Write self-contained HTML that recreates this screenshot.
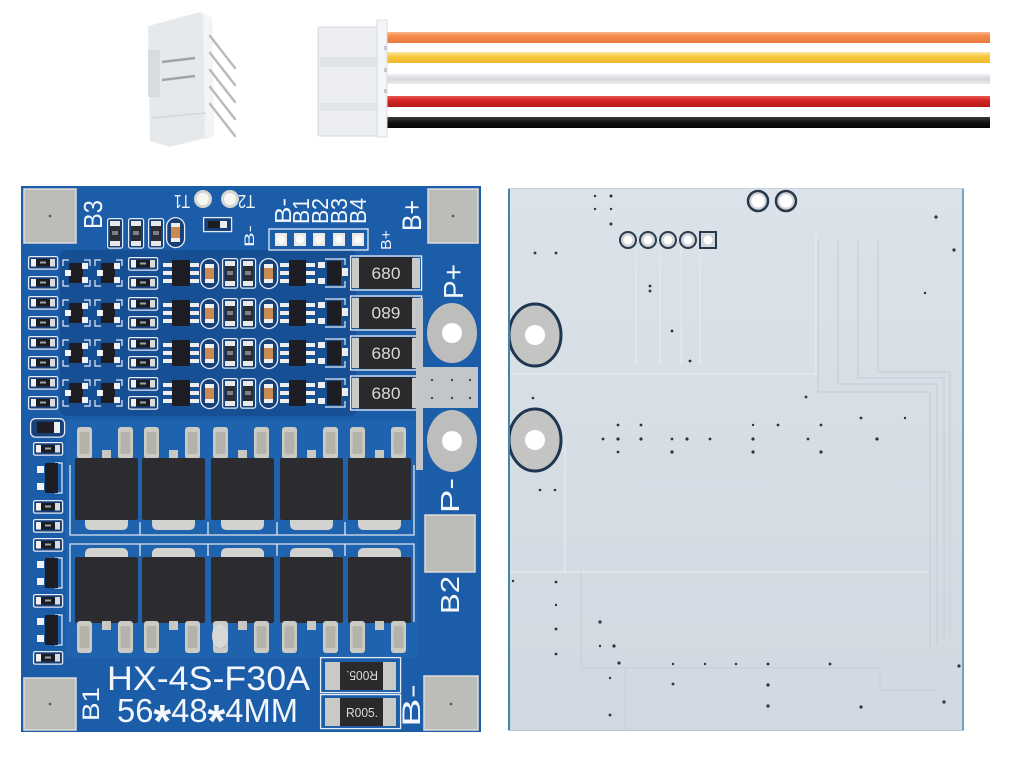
<!DOCTYPE html>
<html><head><meta charset="utf-8"><title>HX-4S-F30A BMS board</title>
<style>html,body{margin:0;padding:0;background:#fff;width:1012px;height:763px;overflow:hidden}svg{display:block}</style></head>
<body>
<svg width="1012" height="763" viewBox="0 0 1012 763" xmlns="http://www.w3.org/2000/svg" font-family="'Liberation Sans', sans-serif">
<defs>
  <linearGradient id="gO" x1="0" y1="0" x2="0" y2="1"><stop offset="0" stop-color="#fbb68c"/><stop offset=".35" stop-color="#f58b4b"/><stop offset="1" stop-color="#e8783c"/></linearGradient>
  <linearGradient id="gY" x1="0" y1="0" x2="0" y2="1"><stop offset="0" stop-color="#fde9a8"/><stop offset=".4" stop-color="#f6c93f"/><stop offset="1" stop-color="#efba2e"/></linearGradient>
  <linearGradient id="gW" x1="0" y1="0" x2="0" y2="1"><stop offset="0" stop-color="#f2f2f4"/><stop offset=".5" stop-color="#d6d7dc"/><stop offset="1" stop-color="#ececef"/></linearGradient>
  <linearGradient id="gR" x1="0" y1="0" x2="0" y2="1"><stop offset="0" stop-color="#ea5a55"/><stop offset=".4" stop-color="#d42424"/><stop offset="1" stop-color="#b81818"/></linearGradient>
  <linearGradient id="gK" x1="0" y1="0" x2="0" y2="1"><stop offset="0" stop-color="#3a3a3a"/><stop offset=".5" stop-color="#121212"/><stop offset="1" stop-color="#060606"/></linearGradient>
  <linearGradient id="gBack" x1="0" y1="0" x2="0" y2="1"><stop offset="0" stop-color="#dce2e9"/><stop offset="1" stop-color="#d0d8e1"/></linearGradient>
  <clipPath id="cpR"><rect x="508" y="188" width="456" height="543"/></clipPath>

  <g id="sr">
    <rect x="0.6" y="0.6" width="29" height="12.5" rx="1.5" fill="#173f78" stroke="#e4ebf4" stroke-width="1.3"/>
    <rect x="3" y="3" width="5" height="7.5" fill="#f0f0f0"/>
    <rect x="8" y="3" width="14" height="7.5" fill="#1c1c24"/>
    <rect x="12" y="5.5" width="6" height="2" fill="#9aa"/>
    <rect x="22" y="3" width="5" height="7.5" fill="#dcdcdc"/>
  </g>
  <g id="sot">
    <path d="M0,6 V0 H6 M21,0 H27 V6 M0,20 V26 H6 M21,26 H27 V20" stroke="#e4ebf4" stroke-width="1.2" fill="none"/>
    <rect x="6" y="3" width="14" height="20" fill="#1d1d23"/>
    <rect x="2" y="10" width="6" height="6" fill="#f2f2f2"/>
    <rect x="19" y="3" width="6" height="6" fill="#f2f2f2"/>
    <rect x="19" y="17" width="6" height="6" fill="#f2f2f2"/>
  </g>
  <g id="sotv">
    <path d="M20,0 H27 V30 H20" stroke="#e4ebf4" stroke-width="1.2" fill="none"/>
    <rect x="10" y="0" width="13" height="30" fill="#1d1d23"/>
    <rect x="2" y="3" width="7" height="7" fill="#f2f2f2"/>
    <rect x="2" y="20" width="7" height="7" fill="#f2f2f2"/>
  </g>
  <g id="vr">
    <rect x="0.6" y="0.6" width="15" height="29.5" rx="2" fill="#173f78" stroke="#e4ebf4" stroke-width="1.2"/>
    <rect x="3" y="3" width="10" height="5" fill="#e8e8e8"/>
    <rect x="3" y="8" width="10" height="15" fill="#2a2d33"/>
    <rect x="5" y="13" width="6" height="4" fill="#7a8088"/>
    <rect x="3" y="23" width="10" height="5" fill="#e8e8e8"/>
  </g>
  <g id="ov">
    <rect x="0.6" y="0.6" width="18" height="30" rx="9" fill="#173f78" stroke="#e4ebf4" stroke-width="1.3"/>
    <rect x="5" y="6" width="9" height="4" fill="#eeeeee"/>
    <rect x="5" y="10" width="9" height="11" fill="#c98a52"/>
    <rect x="5" y="21" width="9" height="4" fill="#eeeeee"/>
  </g>
  <g id="row">
    <use href="#sr" x="28" y="-17"/>
    <use href="#sr" x="28" y="3"/>
    <use href="#sot" x="63" y="-13"/>
    <use href="#sot" x="95" y="-13"/>
    <use href="#sr" x="128" y="-16"/>
    <use href="#sr" x="128" y="3"/>
    <rect x="172" y="-13" width="18" height="26" fill="#1d1d23"/>
    <g fill="#eeeeee">
      <rect x="163" y="-10" width="9" height="4"/><rect x="163" y="-2" width="9" height="4"/><rect x="163" y="6" width="9" height="4"/>
      <rect x="190" y="-10" width="9" height="4"/><rect x="190" y="-2" width="9" height="4"/><rect x="190" y="6" width="9" height="4"/>
    </g>
    <use href="#ov" x="200" y="-15"/>
    <use href="#vr" x="222" y="-15"/>
    <use href="#vr" x="240" y="-15"/>
    <use href="#ov" x="259" y="-15"/>
    <rect x="289" y="-13" width="17" height="26" fill="#1d1d23"/>
    <g fill="#eeeeee">
      <rect x="280" y="-10" width="9" height="4"/><rect x="280" y="-2" width="9" height="4"/><rect x="280" y="6" width="9" height="4"/>
      <rect x="306" y="-10" width="9" height="4"/><rect x="306" y="-2" width="9" height="4"/><rect x="306" y="6" width="9" height="4"/>
      <rect x="318" y="-11" width="7" height="6"/><rect x="318" y="5" width="7" height="6"/>
      <rect x="342" y="-5" width="6" height="8"/>
    </g>
    <rect x="327" y="-12" width="14" height="24" fill="#1d1d23"/>
    <path d="M325,-14 H345 V-8 M325,14 H345 V8" stroke="#e4ebf4" stroke-width="1.2" fill="none"/>
    <rect x="350.6" y="-17" width="71" height="34" fill="none" stroke="#e4ebf4" stroke-width="1.3"/>
    <rect x="352" y="-15" width="8" height="30" fill="#c9c9c6"/>
    <rect x="359" y="-16" width="54" height="32" fill="#2a2a2d"/>
    <rect x="412" y="-15" width="8" height="30" fill="#c9c9c6"/>
  </g>
  <g id="mt">
    <rect x="2" y="427" width="15" height="32" rx="3" fill="#cbcbc5"/>
    <rect x="4.5" y="432" width="10" height="22" rx="2" fill="#b4b3ab"/>
    <rect x="43" y="427" width="15" height="32" rx="3" fill="#cbcbc5"/>
    <rect x="45.5" y="432" width="10" height="22" rx="2" fill="#b4b3ab"/>
    <rect x="27" y="450" width="9" height="9" fill="#c8c8c2"/>
    <rect x="0" y="458" width="63" height="62" rx="2" fill="#2c2c30"/>
    <path d="M10,520 H53 V524 Q53,530 47,530 H16 Q10,530 10,524 Z" fill="#d2d2ce"/>
  </g>
  <g id="mb">
    <path d="M10,558 V554 Q10,548 16,548 H47 Q53,548 53,554 V558 Z" fill="#d2d2ce"/>
    <rect x="0" y="557" width="63" height="66" rx="2" fill="#2c2c30"/>
    <rect x="27" y="621" width="9" height="9" fill="#c8c8c2"/>
    <rect x="2" y="621" width="15" height="32" rx="3" fill="#cbcbc5"/>
    <rect x="4.5" y="626" width="10" height="22" rx="2" fill="#b4b3ab"/>
    <rect x="43" y="621" width="15" height="32" rx="3" fill="#cbcbc5"/>
    <rect x="45.5" y="626" width="10" height="22" rx="2" fill="#b4b3ab"/>
  </g>
</defs>

<rect width="1012" height="763" fill="#ffffff"/>

<!-- ===== Left right-angle header ===== -->
<polygon points="148,26 200,12 212,18 214,136 170,147 150,141" fill="#e6e9ec"/>
<polygon points="200,12 212,18 214,136 205,140 203,16" fill="#f3f4f6"/>
<rect x="148" y="50" width="12" height="47" fill="#d8dce0"/>
<line x1="162" y1="62" x2="195" y2="58" stroke="#9ea4aa" stroke-width="2.5"/>
<line x1="162" y1="80" x2="195" y2="76" stroke="#9ea4aa" stroke-width="2.5"/>
<line x1="152" y1="118" x2="206" y2="113" stroke="#d2d6da" stroke-width="1.5"/>
<g stroke="#b8bcc1" stroke-width="2.5" stroke-linecap="round">
  <line x1="210" y1="36" x2="235" y2="68"/>
  <line x1="210" y1="53" x2="235" y2="85"/>
  <line x1="210" y1="70" x2="235" y2="102"/>
  <line x1="210" y1="87" x2="235" y2="119"/>
  <line x1="210" y1="104" x2="235" y2="136"/>
</g>

<!-- ===== Wires ===== -->
<rect x="385" y="32" width="605" height="11" fill="url(#gO)"/>
<rect x="385" y="52" width="605" height="11" fill="url(#gY)"/>
<rect x="385" y="74" width="605" height="10" fill="url(#gW)"/>
<rect x="385" y="96" width="605" height="11" fill="url(#gR)"/>
<rect x="385" y="117" width="605" height="11" fill="url(#gK)"/>

<!-- ===== Wire housing ===== -->
<rect x="318" y="27" width="62" height="109" rx="2" fill="#eceef1" stroke="#d5d8dc"/>
<rect x="320" y="57" width="57" height="10" fill="#e0e3e6"/>
<rect x="320" y="103" width="57" height="8" fill="#e3e6e9"/>
<rect x="377" y="20" width="10" height="117" fill="#f4f5f7" stroke="#d9dcdf"/>
<g fill="#c5c9cd"><rect x="384" y="46" width="3" height="4"/><rect x="384" y="68" width="3" height="4"/><rect x="384" y="89" width="3" height="4"/></g>

<!-- ===== LEFT BOARD ===== -->
<rect x="21" y="186" width="460" height="546" fill="#1c5da9"/>
<rect x="60" y="250" width="296" height="166" rx="6" fill="#0f3d7a" opacity=".45"/>
<rect x="66" y="420" width="352" height="238" fill="#2165b1" opacity=".6"/>

<!-- corner pads -->
<g fill="#bcbcb9" stroke="#dcdcda" stroke-width="1.5">
  <rect x="24" y="189" width="52" height="54"/>
  <rect x="428" y="189" width="50" height="54"/>
  <rect x="24" y="678" width="52" height="52"/>
  <rect x="424" y="676" width="54" height="54"/>
  <rect x="425" y="515" width="50" height="57"/>
</g>
<g fill="#555"><circle cx="50" cy="216" r="1.3"/><circle cx="453" cy="216" r="1.3"/><circle cx="50" cy="704" r="1.3"/><circle cx="451" cy="704" r="1.3"/></g>

<!-- top labels -->
<g fill="#f3f6fb">
  <text transform="translate(102,229) rotate(-90)" font-size="26" textLength="29" lengthAdjust="spacingAndGlyphs">B3</text>
  <text transform="translate(421,231) rotate(-90)" font-size="27" textLength="31" lengthAdjust="spacingAndGlyphs">B+</text>
  <text transform="translate(190,195) rotate(180)" font-size="18" textLength="16" lengthAdjust="spacingAndGlyphs">T1</text>
  <text transform="translate(255,195) rotate(180)" font-size="18" textLength="17" lengthAdjust="spacingAndGlyphs">T2</text>
  <text transform="translate(254,247) rotate(-90)" font-size="14" textLength="22" lengthAdjust="spacingAndGlyphs">B-</text>
  <text transform="translate(291,224) rotate(-90)" font-size="23" textLength="26" lengthAdjust="spacingAndGlyphs">B-</text>
  <text transform="translate(309,224) rotate(-90)" font-size="23" textLength="26" lengthAdjust="spacingAndGlyphs">B1</text>
  <text transform="translate(328,224) rotate(-90)" font-size="23" textLength="26" lengthAdjust="spacingAndGlyphs">B2</text>
  <text transform="translate(347,224) rotate(-90)" font-size="23" textLength="26" lengthAdjust="spacingAndGlyphs">B3</text>
  <text transform="translate(366,224) rotate(-90)" font-size="23" textLength="26" lengthAdjust="spacingAndGlyphs">B4</text>
  <text transform="translate(391,250) rotate(-90)" font-size="15" textLength="20" lengthAdjust="spacingAndGlyphs">B+</text>
  <text transform="translate(463,299) rotate(-90)" font-size="28" textLength="35" lengthAdjust="spacingAndGlyphs">P+</text>
  <text transform="translate(459,513) rotate(-90)" font-size="26" textLength="35" lengthAdjust="spacingAndGlyphs">P-</text>
  <text transform="translate(459,614) rotate(-90)" font-size="26" textLength="38" lengthAdjust="spacingAndGlyphs">B2</text>
  <text transform="translate(99,721) rotate(-90)" font-size="24" textLength="34" lengthAdjust="spacingAndGlyphs">B1</text>
  <text transform="translate(420,727) rotate(-90)" font-size="25" textLength="43" lengthAdjust="spacingAndGlyphs">B-</text>
</g>

<!-- T1/T2 holes -->
<circle cx="203" cy="199" r="9" fill="#d6d6d2"/><circle cx="203" cy="199" r="6" fill="#f6f6f3"/>
<circle cx="230" cy="199" r="9" fill="#d6d6d2"/><circle cx="230" cy="199" r="6" fill="#f6f6f3"/>
<rect x="203.6" y="217.6" width="28" height="14" fill="#173f78" stroke="#e4ebf4" stroke-width="1.3"/>
<rect x="208" y="221" width="12" height="7" fill="#1d1d23"/><rect x="220" y="221" width="7" height="7" fill="#eeeeee"/>

<!-- top resistors -->
<use href="#vr" x="107" y="218"/>
<use href="#vr" x="128" y="218"/>
<use href="#vr" x="148" y="218"/>
<use href="#ov" x="166" y="217"/>

<!-- B- B1..B4 pad row -->
<rect x="269" y="229" width="99" height="21" fill="none" stroke="#e4ebf4" stroke-width="1.3"/>
<g fill="#e9e9e6">
  <rect x="275" y="233" width="12" height="13"/><rect x="294" y="233" width="12" height="13"/><rect x="313" y="233" width="12" height="13"/><rect x="333" y="233" width="12" height="13"/><rect x="352" y="233" width="12" height="13"/>
</g>
<g fill="#fbfbf9"><circle cx="281" cy="239.5" r="4"/><circle cx="300" cy="239.5" r="4"/><circle cx="319" cy="239.5" r="4"/><circle cx="339" cy="239.5" r="4"/><circle cx="358" cy="239.5" r="4"/></g>

<!-- four component rows -->
<use href="#row" y="273"/>
<use href="#row" y="313"/>
<use href="#row" y="353"/>
<use href="#row" y="393"/>
<g fill="#d9d9d9" font-size="17" text-anchor="middle">
  <text x="386" y="279" textLength="29" lengthAdjust="spacingAndGlyphs">680</text>
  <text transform="translate(386,313) rotate(180)" y="6" textLength="29" lengthAdjust="spacingAndGlyphs">680</text>
  <text x="386" y="359" textLength="29" lengthAdjust="spacingAndGlyphs">680</text>
  <text x="386" y="399" textLength="29" lengthAdjust="spacingAndGlyphs">680</text>
</g>

<!-- P+/P- pads and strip -->
<rect x="416" y="298" width="7" height="172" fill="#c3c6c8"/>
<rect x="417" y="367" width="61" height="41" fill="#c3c6c8"/>
<g fill="#4a4a4a"><circle cx="432" cy="380" r="1.2"/><circle cx="452" cy="380" r="1.2"/><circle cx="470" cy="380" r="1.2"/><circle cx="432" cy="398" r="1.2"/><circle cx="452" cy="398" r="1.2"/><circle cx="470" cy="398" r="1.2"/></g>
<ellipse cx="452" cy="333" rx="25" ry="30" fill="#bdbdbb"/><circle cx="452" cy="333" r="10" fill="#ffffff"/>
<ellipse cx="452" cy="441" rx="25" ry="31" fill="#bdbdbb"/><circle cx="452" cy="441" r="10" fill="#ffffff"/>

<!-- left column lower components -->
<rect x="30.6" y="418.6" width="34" height="18.5" rx="5" fill="#173f78" stroke="#e4ebf4" stroke-width="1.3"/>
<rect x="37" y="422" width="17" height="11" fill="#1d1d23"/><rect x="54" y="422" width="6" height="11" fill="#eeeeee"/>
<use href="#sr" x="33" y="442"/>
<use href="#sotv" x="35" y="463"/>
<use href="#sr" x="33" y="500"/>
<use href="#sr" x="33" y="519"/>
<use href="#sr" x="33" y="538"/>
<use href="#sotv" x="35" y="558"/>
<use href="#sr" x="33" y="594"/>
<use href="#sotv" x="35" y="615"/>
<use href="#sr" x="33" y="651"/>

<!-- MOSFET silk -->
<g stroke="#dde6f0" stroke-width="1.3" fill="none">
  <path d="M70,465 V535 H414 V465"/>
  <path d="M70,622 V544 H414 V622"/>
  <path d="M140,522 V535 M208,522 V535 M277,522 V535 M345,522 V535"/>
  <path d="M140,544 V556 M208,544 V556 M277,544 V556 M345,544 V556"/>
</g>
<!-- MOSFETs -->
<use href="#mt" x="75"/><use href="#mt" x="142"/><use href="#mt" x="211"/><use href="#mt" x="280"/><use href="#mt" x="348"/>
<use href="#mb" x="75"/><use href="#mb" x="142"/><use href="#mb" x="211"/><use href="#mb" x="280"/><use href="#mb" x="348"/>
<ellipse cx="220" cy="636" rx="8" ry="12" fill="#d8d8d4"/>

<!-- R005 resistors -->
<rect x="320.6" y="657.6" width="80" height="35" fill="none" stroke="#e4ebf4" stroke-width="1.3"/>
<rect x="320.6" y="694.6" width="80" height="34" fill="none" stroke="#e4ebf4" stroke-width="1.3"/>
<rect x="325" y="662" width="15" height="28" fill="#c9c9c6"/><rect x="340" y="662" width="43" height="28" fill="#2a2a2d"/><rect x="383" y="662" width="13" height="28" fill="#c9c9c6"/>
<rect x="325" y="698" width="15" height="28" fill="#c9c9c6"/><rect x="340" y="698" width="43" height="28" fill="#2a2a2d"/><rect x="383" y="698" width="13" height="28" fill="#c9c9c6"/>
<g fill="#dcdcdc" font-size="13" text-anchor="middle">
  <text transform="translate(362,676) rotate(180)" y="5" textLength="32" lengthAdjust="spacingAndGlyphs">R005.</text>
  <text x="362" y="717" textLength="32" lengthAdjust="spacingAndGlyphs">R005.</text>
</g>

<!-- board model text -->
<g fill="#f3f6fb">
  <text x="107" y="690" font-size="34" textLength="203" lengthAdjust="spacingAndGlyphs">HX-4S-F30A</text>
  <text x="117" y="722" font-size="33" textLength="181" lengthAdjust="spacingAndGlyphs">56<tspan font-size="46" font-weight="bold" dy="15">*</tspan><tspan dy="-15">48</tspan><tspan font-size="46" font-weight="bold" dy="15">*</tspan><tspan dy="-15">4MM</tspan></text>
</g>

<!-- ===== RIGHT BOARD (back side) ===== -->
<rect x="508" y="188" width="456" height="543" fill="url(#gBack)"/>
<g clip-path="url(#cpR)">
  <g fill="none" stroke-width="1.5">
    <path d="M508,374 H816 V234" stroke="#e6ebf0"/>
    <path d="M636,250 V365 M660,250 V365 M681,250 V365 M700,250 V365" stroke="#e3e8ee"/>
    <path d="M818,240 V392 H930 V650" stroke="#c9d1da"/>
    <path d="M838,240 V384 H937 V645" stroke="#c9d1da"/>
    <path d="M858,240 V378 H944 V640" stroke="#c9d1da"/>
    <path d="M878,240 V372 H950 V635" stroke="#c9d1da"/>
    <path d="M508,572 H928" stroke="#e3e8ee"/>
    <path d="M581,572 V668 H880 V690 H935" stroke="#c9d1da"/>
    <path d="M625,668 V731" stroke="#c9d1da"/>
    <path d="M565,440 V572" stroke="#e3e8ee"/>
  </g>
  <ellipse cx="535" cy="335" rx="26" ry="31" fill="#c4c4c2" stroke="#1f3550" stroke-width="3"/>
  <circle cx="535" cy="335" r="10" fill="#ffffff"/>
  <ellipse cx="535" cy="440" rx="26" ry="31" fill="#c4c4c2" stroke="#1f3550" stroke-width="3"/>
  <circle cx="535" cy="440" r="10" fill="#ffffff"/>
</g>
<line x1="509" y1="188" x2="509" y2="731" stroke="#3f86a8" stroke-width="2"/>
<line x1="963" y1="188" x2="963" y2="731" stroke="#5a90aa" stroke-width="1.5"/>
<line x1="508" y1="730.5" x2="964" y2="730.5" stroke="#b9c3cd" stroke-width="1"/>
<line x1="508" y1="188.5" x2="964" y2="188.5" stroke="#c6d0da" stroke-width="1"/>

<!-- top holes -->
<circle cx="758" cy="201" r="10" fill="#d2d6da" stroke="#26384a" stroke-width="2.5"/><circle cx="758" cy="201" r="6.5" fill="#fff"/>
<circle cx="786" cy="201" r="10" fill="#d2d6da" stroke="#26384a" stroke-width="2.5"/><circle cx="786" cy="201" r="6.5" fill="#fff"/>
<g fill="#d2d6da" stroke="#2a3a4a" stroke-width="2">
  <circle cx="628" cy="240" r="8"/><circle cx="648" cy="240" r="8"/><circle cx="668" cy="240" r="8"/><circle cx="688" cy="240" r="8"/>
  <rect x="700" y="232" width="16" height="16"/>
</g>
<g fill="#fff"><circle cx="628" cy="240" r="4.5"/><circle cx="648" cy="240" r="4.5"/><circle cx="668" cy="240" r="4.5"/><circle cx="688" cy="240" r="4.5"/><circle cx="708" cy="240" r="4.5"/></g>

<!-- vias -->
<g fill="#2a3440">
  <circle cx="595" cy="196" r="1.2"/><circle cx="611" cy="196" r="1.5"/><circle cx="595" cy="209" r="1.2"/><circle cx="611" cy="209" r="1.2"/><circle cx="611" cy="224" r="1.5"/>
  <circle cx="535" cy="253" r="1.4"/><circle cx="556" cy="253" r="1.4"/><circle cx="650" cy="286" r="1.4"/><circle cx="650" cy="291" r="1.4"/>
  <circle cx="672" cy="331" r="1.4"/><circle cx="690" cy="361" r="1.4"/><circle cx="936" cy="217" r="1.6"/><circle cx="954" cy="250" r="1.6"/><circle cx="925" cy="293" r="1.2"/>
  <circle cx="806" cy="397" r="1.4"/><circle cx="861" cy="418" r="1.4"/><circle cx="905" cy="418" r="1.2"/><circle cx="533" cy="398" r="1.3"/>
  <circle cx="618" cy="425" r="1.4"/><circle cx="641" cy="425" r="1.4"/><circle cx="753" cy="425" r="1.2"/><circle cx="778" cy="425" r="1.4"/><circle cx="821" cy="425" r="1.4"/>
  <circle cx="603" cy="439" r="1.4"/><circle cx="618" cy="439" r="1.6"/><circle cx="641" cy="439" r="1.6"/><circle cx="672" cy="439" r="1.4"/><circle cx="687" cy="439" r="1.6"/><circle cx="710" cy="439" r="1.4"/><circle cx="753" cy="439" r="1.6"/><circle cx="808" cy="439" r="1.4"/><circle cx="877" cy="439" r="1.6"/>
  <circle cx="618" cy="452" r="1.4"/><circle cx="672" cy="452" r="1.6"/><circle cx="753" cy="452" r="1.6"/><circle cx="821" cy="452" r="1.6"/>
  <circle cx="540" cy="490" r="1.3"/><circle cx="555" cy="490" r="1.3"/><circle cx="513" cy="581" r="1.2"/><circle cx="556" cy="582" r="1.4"/>
  <circle cx="556" cy="605" r="1.2"/><circle cx="556" cy="629" r="1.4"/><circle cx="556" cy="654" r="1.4"/><circle cx="600" cy="622" r="1.6"/><circle cx="600" cy="646" r="1.2"/><circle cx="614" cy="646" r="1.6"/>
  <circle cx="619" cy="663" r="1.6"/><circle cx="610" cy="678" r="1.2"/><circle cx="610" cy="715" r="1.4"/><circle cx="673" cy="664" r="1.2"/><circle cx="705" cy="664" r="1.2"/><circle cx="736" cy="664" r="1.2"/><circle cx="768" cy="664" r="1.4"/><circle cx="830" cy="664" r="1.4"/>
  <circle cx="673" cy="684" r="1.4"/><circle cx="768" cy="685" r="1.6"/><circle cx="768" cy="706" r="1.6"/><circle cx="861" cy="707" r="1.6"/><circle cx="944" cy="702" r="1.6"/><circle cx="959" cy="666" r="1.6"/>
</g>
</svg>
</body></html>
